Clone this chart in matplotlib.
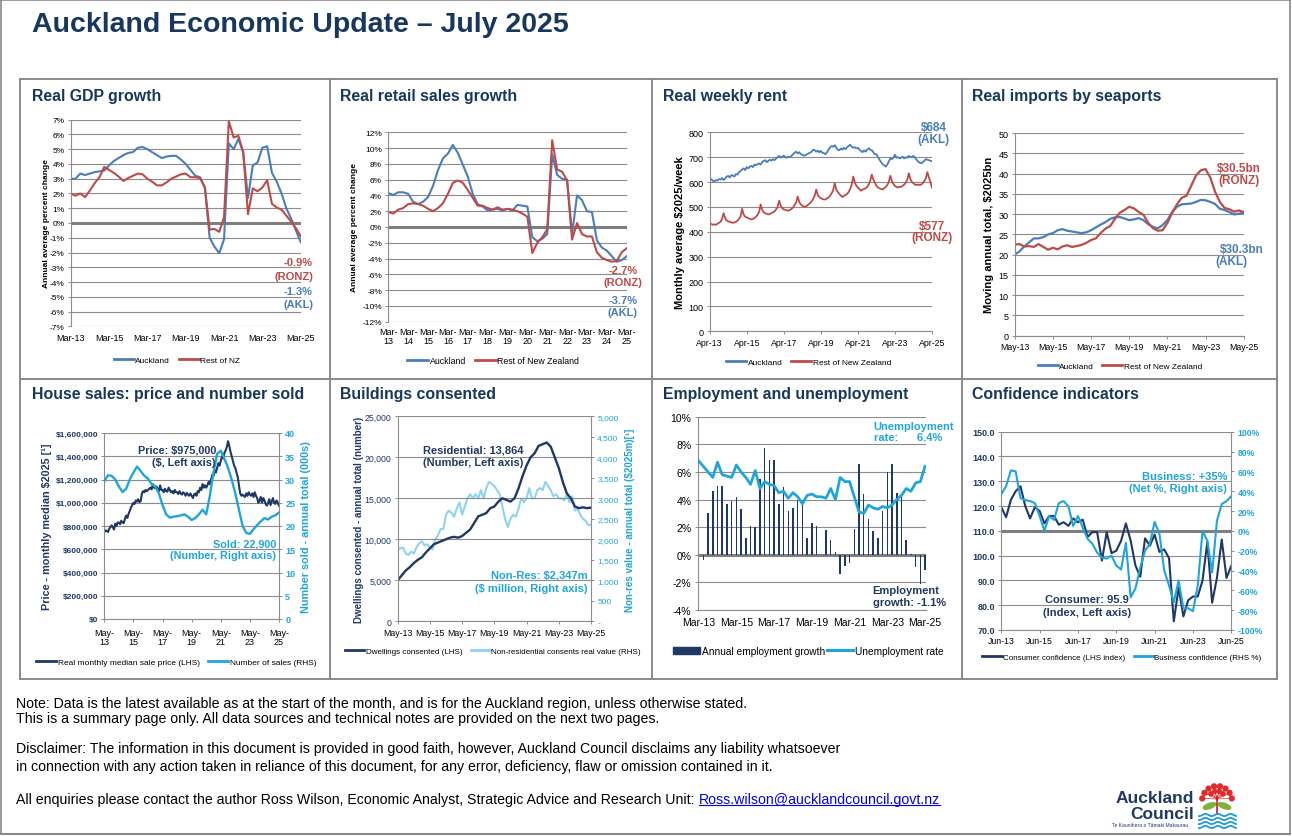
import numpy as np
import matplotlib
matplotlib.use("Agg")
import matplotlib.pyplot as plt
from matplotlib.lines import Line2D
from matplotlib.patches import Patch, Circle, Ellipse

# ============================ DATA ============================
# Real GDP growth (quarterly, Mar-13 .. Mar-25), annual average % change
gdp_akl = [3.0, 3.0, 3.35, 3.25, 3.35, 3.45, 3.5, 3.55, 3.9, 4.2,
           4.4, 4.6, 4.75, 4.8, 5.1, 5.15, 5.0, 4.8, 4.6, 4.4,
           4.5, 4.55, 4.55, 4.3, 4.0, 3.6, 3.2, 3.1, 2.4, -1.0,
           -1.6, -2.05, -1.1, 5.4, 5.0, 5.7, 4.8, 1.7, 3.9, 4.1,
           5.1, 5.2, 3.4, 2.8, 2.0, 1.0, 0.3, -0.5, -1.3]
gdp_ronz = [2.0, 1.85, 2.0, 1.75, 2.2, 2.7, 3.1, 3.8, 3.6, 3.4,
            3.15, 2.85, 3.05, 3.2, 3.35, 3.3, 3.0, 2.8, 2.55, 2.55,
            2.75, 3.0, 3.15, 3.3, 3.35, 3.1, 3.1, 3.05, 2.4, -0.45,
            -0.4, -0.6, 0.4, 6.9, 5.8, 5.9, 4.8, 0.6, 2.35, 2.15,
            2.4, 2.9, 1.3, 1.05, 0.9, 0.5, 0.1, -0.35, -0.9]
gdp_xlabels = ['Mar-13', 'Mar-15', 'Mar-17', 'Mar-19', 'Mar-21', 'Mar-23', 'Mar-25']

# Real retail sales growth (quarterly, Mar-13 .. Mar-25)
retail_akl = [4.3, 4.05, 4.4, 4.4, 4.2, 3.2, 2.9, 3.2, 3.8, 5.2,
              7.2, 8.7, 9.3, 10.4, 9.4, 7.9, 6.4, 4.2, 2.9, 2.6,
              2.1, 2.2, 2.3, 2.1, 2.3, 2.1, 2.8, 2.7, 2.6, -1.3,
              -1.8, -1.5, -0.9, 9.2, 6.6, 6.1, 6.0, -0.9, 4.0, 3.4,
              2.0, 1.9, -1.7, -2.6, -3.0, -3.7, -4.4, -4.2, -3.7]
retail_ronz = [1.9, 1.7, 2.2, 2.4, 2.9, 3.0, 2.9, 2.7, 2.3, 2.0,
               2.4, 3.0, 4.2, 5.6, 5.9, 5.6, 4.7, 3.7, 2.7, 2.7,
               2.4, 2.2, 2.5, 2.2, 2.3, 2.2, 2.0, 1.7, 1.3, -3.3,
               -2.0, -1.3, -0.3, 11.0, 7.3, 7.0, 5.9, -1.6, 0.5, -0.9,
               -1.2, -1.2, -3.2, -3.9, -4.2, -4.4, -4.3, -3.2, -2.7]
retail_xlabels = ['Mar-\n13', 'Mar-\n14', 'Mar-\n15', 'Mar-\n16', 'Mar-\n17', 'Mar-\n18', 'Mar-\n19',
                  'Mar-\n20', 'Mar-\n21', 'Mar-\n22', 'Mar-\n23', 'Mar-\n24', 'Mar-\n25']

# Real weekly rent (monthly, Apr-13 .. Apr-25), $2025/week
rent_akl = [610, 612, 605, 603, 608, 606, 612, 610, 616, 608, 615, 622,
            625, 618, 628, 626, 622, 632, 630, 640, 645, 650, 655, 648,
            660, 655, 662, 665, 660, 670, 668, 672, 675, 670, 680, 685,
            688, 680, 685, 690, 686, 692, 688, 695, 700, 705, 698, 702,
            706, 700, 698, 702, 700, 705, 712, 718, 722, 715, 720, 712,
            710, 706, 708, 712, 715, 718, 722, 730, 728, 722, 726, 720,
            725, 718, 716, 712, 720, 730, 740, 745, 742, 748, 738, 730,
            728, 735, 730, 738, 732, 740, 745, 750, 742, 738, 740, 735,
            738, 730, 725, 720, 728, 722, 730, 736, 730, 728, 720, 712,
            712, 700, 690, 680, 672, 668, 662, 670, 682, 695, 692, 698,
            710, 698, 700, 695, 698, 702, 695, 700, 698, 705, 700, 702,
            705, 698, 690, 682, 678, 675, 680, 685, 692, 690, 688, 685,
            684]
rent_ronz = [435, 432, 428, 430, 428, 432, 436, 440, 452, 475, 455, 445,
             442, 440, 438, 436, 438, 440, 445, 452, 462, 492, 470, 460,
             458, 455, 452, 450, 452, 455, 460, 468, 480, 510, 488, 478,
             475, 472, 470, 472, 475, 478, 482, 490, 500, 525, 505, 495,
             490, 488, 486, 485, 488, 492, 498, 508, 518, 542, 520, 510,
             505, 502, 500, 505, 510, 515, 522, 532, 545, 570, 548, 540,
             535, 532, 530, 530, 534, 538, 545, 555, 568, 595, 570, 560,
             552, 545, 540, 545, 548, 552, 560, 572, 590, 622, 598, 585,
             578, 572, 565, 570, 572, 575, 580, 590, 605, 630, 610, 598,
             585, 578, 575, 572, 570, 575, 580, 588, 600, 625, 605, 592,
             585, 580, 578, 582, 580, 585, 590, 598, 610, 635, 612, 600,
             595, 590, 588, 590, 588, 590, 595, 605, 615, 640, 618, 600,
             577]
rent_xlabels = ['Apr-13', 'Apr-15', 'Apr-17', 'Apr-19', 'Apr-21', 'Apr-23', 'Apr-25']

# Real imports by seaports (quarterly, May-13 .. May-25), moving annual total $2025bn
imports_akl = [20.0, 20.8, 22.0, 23.0, 24.0, 24.0, 24.3, 25.0, 25.3, 26.0,
               26.3, 25.9, 25.7, 25.5, 25.3, 25.5, 26.0, 26.7, 27.4, 28.0,
               28.8, 29.2, 29.3, 28.9, 28.5, 28.7, 29.0, 28.5, 27.5, 26.8,
               26.5, 27.3, 28.5, 30.5, 31.8, 32.4, 32.5, 32.6, 33.0, 33.5,
               33.4, 33.0, 32.5, 31.3, 31.0, 30.5, 29.9, 30.1, 30.3]
imports_ronz = [22.5, 22.6, 22.0, 22.1, 21.9, 22.6, 21.9, 21.2, 21.7, 21.3,
                22.0, 22.3, 21.9, 22.1, 22.4, 22.9, 23.6, 24.0, 25.3, 26.4,
                27.0, 28.8, 30.3, 31.0, 31.8, 31.4, 30.5, 29.8, 27.8, 26.5,
                25.9, 26.0, 27.8, 30.3, 32.4, 34.0, 34.5, 37.0, 39.5, 40.8,
                41.1, 39.0, 35.5, 33.0, 31.5, 31.2, 30.6, 30.9, 30.5]
imports_xlabels = ['May-13', 'May-15', 'May-17', 'May-19', 'May-21', 'May-23', 'May-25']

# House sales: real monthly median price ($000, monthly May-13 .. May-25)
house_price_k = [770, 755, 760, 748, 775, 790, 805, 790, 770, 820, 800, 830,
                 830, 815, 845, 830, 825, 860, 890, 870, 905, 930, 960, 980,
                 1000, 990, 1020, 1010, 1030, 1005, 1015, 1080, 1100, 1090, 1110, 1100,
                 1110, 1120, 1130, 1115, 1160, 1130, 1125, 1140, 1120, 1100, 1150, 1110,
                 1110, 1090, 1120, 1100, 1095, 1130, 1110, 1090, 1100, 1080, 1110, 1090,
                 1090, 1075, 1100, 1080, 1070, 1090, 1080, 1060, 1085, 1070, 1060, 1080,
                 1060, 1040, 1070, 1080, 1060, 1100, 1090, 1130, 1110, 1160, 1130, 1150,
                 1130, 1150, 1180, 1160, 1200, 1240, 1230, 1280, 1260, 1300, 1340, 1320,
                 1360, 1400, 1380, 1430, 1450, 1480, 1530, 1490, 1440, 1400, 1360, 1320,
                 1300, 1260, 1220, 1150, 1080, 1060, 1070, 1060, 1050, 1080, 1060, 1090,
                 1070, 1060, 1080, 1050, 1090, 1060, 1040, 1000, 1020, 1050, 1000, 1040,
                 1020, 990, 975, 1000, 1030, 980, 1010, 1040, 1000, 990, 1020, 1000,
                 975]
# Number of sales, annual total (000s), quarterly May-13 .. May-25
house_sales = [29.6, 30.9, 30.8, 30.0, 28.5, 27.3, 28.0, 30.0, 31.5, 32.8,
               31.8, 30.8, 30.2, 29.0, 28.5, 27.0, 24.5, 22.5, 21.8, 22.0,
               22.1, 22.3, 22.5, 22.0, 21.3, 21.7, 22.5, 23.5, 22.5, 26.5,
               31.5, 35.5, 36.2, 34.5, 32.5, 30.0, 27.0, 23.5, 20.0, 18.5,
               18.3, 19.3, 20.2, 21.0, 21.7, 21.4, 22.0, 22.3, 22.9]
house_xlabels = ['May-\n13', 'May-\n15', 'May-\n17', 'May-\n19', 'May-\n21', 'May-\n23', 'May-\n25']

# Buildings consented: dwellings (quarterly May-13 .. May-25)
bld_dwellings = [5000, 5600, 6200, 6600, 7100, 7500, 7800, 8400, 8900, 9400,
                 9600, 9800, 10000, 10200, 10300, 10200, 10400, 10800, 11200, 12000,
                 12800, 13000, 13200, 13800, 14000, 14600, 15000, 14800, 14600, 15000,
                 16200, 17700, 19000, 20000, 20500, 21400, 21600, 21800, 21300, 20000,
                 18700, 17000, 15600, 15000, 14000, 13800, 13900, 13800, 13864]
# Non-residential consents real value ($m, every two months May-13 .. May-25)
bld_nonres = [1750, 1780, 1800, 1650, 1620, 1700, 1650, 1800, 1900, 1950,
              1850, 1880, 1800, 1750, 2000, 2100, 2250, 2250, 2600, 2700,
              2650, 2550, 2750, 2900, 2600, 2800, 3000, 3100, 3000, 3100,
              3000, 3200, 3000, 3250, 3400, 3350, 3300, 3200, 3100, 2800,
              2500, 2300, 2500, 2600, 2550, 2750, 3000, 2900, 3000, 3250,
              3000, 3000, 3200, 3250, 3200, 3400, 3300, 3200, 3050, 3100,
              3000, 3000, 2950, 3100, 2900, 3050, 2700, 2750, 2600, 2500,
              2450, 2350, 2347]
bld_xlabels = ['May-13', 'May-15', 'May-17', 'May-19', 'May-21', 'May-23', 'May-25']

# Employment (quarterly Mar-13 .. Mar-25)
emp_growth = [-0.5, -0.4, 3.0, 4.6, 5.0, 5.0, 3.7, 3.9, 4.2, 3.3,
              1.2, 2.1, 2.0, 5.5, 7.7, 6.9, 6.9, 3.7, 4.9, 3.2,
              3.4, 4.0, 3.6, 1.2, 2.3, 2.1, 0.0, 1.8, 1.1, 0.2,
              -1.4, -0.8, -0.6, 1.9, 6.6, 4.4, 2.6, 1.7, 1.2, 3.2,
              6.0, 6.6, 4.5, 4.2, 1.1, 0.05, -0.9, -2.1, -1.1]
unemp_rate = [6.8, 6.4, 6.0, 5.6, 6.7, 5.8, 5.7, 5.6, 6.5, 6.0,
              5.6, 5.1, 6.1, 4.8, 5.3, 5.1, 5.0, 4.5, 4.6, 4.1,
              4.5, 4.2, 3.7, 4.3, 4.4, 4.2, 4.2, 4.1, 4.8, 4.0,
              5.6, 5.3, 5.3, 4.2, 3.1, 3.0, 3.6, 3.4, 3.3, 3.5,
              3.4, 3.6, 4.0, 4.3, 4.8, 4.6, 5.2, 5.3, 6.4]
emp_xlabels = ['Mar-13', 'Mar-15', 'Mar-17', 'Mar-19', 'Mar-21', 'Mar-23', 'Mar-25']

# Confidence indicators (quarterly Jun-13 .. Jun-25)
conf_consumer = [119.5, 115.5, 122.5, 126, 128, 120, 115, 119.5, 118, 113,
                 116, 116, 112.5, 113.5, 112, 115, 113.5, 114.5, 107.5, 109.5,
                 109.5, 98, 109.5, 101, 102, 106, 113, 106, 96, 91.5,
                 107, 104, 108.5, 101.5, 102.5, 99, 73.5, 87, 75.5, 82,
                 83.5, 83.5, 90, 105.5, 81, 91, 106.5, 91, 95.9]
conf_business = [37, 45, 61, 60, 33, 31, 30, 28, 15, 0,
                 15, 11, 28, 30, 25, 5, 15, 3, -8, -13,
                 -22, -27, -28, -25, -35, -39, -12, -67, -58, -37,
                 -20, -13, 9, -3, -40, -55, -72, -50, -78, -78,
                 -81, -55, 0, -10, -42, 10, 27, 30, 35]
conf_xlabels = ['Jun-13', 'Jun-15', 'Jun-17', 'Jun-19', 'Jun-21', 'Jun-23', 'Jun-25']

# ============================ STYLE ============================
W, H = 1292, 837
fig = plt.figure(figsize=(W / 100, H / 100), dpi=100)
fig.patch.set_facecolor('white')

NAVY = '#1F3864'
TITLE_C = '#17375E'
BLUE = '#4A7EBB'
RED = '#BE4B48'
LBLUE = '#1FA5DE'
PALE = '#8FD3F3'
GRID = '#8C8C8C'
FRAME = '#8A8A8A'
NARROW = ['Liberation Sans Narrow', 'Liberation Sans', 'DejaVu Sans']
SANS = ['Liberation Sans', 'DejaVu Sans']


def add_ax(l, t, r, b):
    return fig.add_axes([l / W, 1 - b / H, (r - l) / W, (b - t) / H])


def ftext(x, y, s, **kw):
    kw.setdefault('fontfamily', SANS)
    return fig.text(x / W, 1 - y / H, s, **kw)


def fline(x0, y0, x1, y1, **kw):
    fig.add_artist(Line2D([x0 / W, x1 / W], [1 - y0 / H, 1 - y1 / H],
                          transform=fig.transFigure, **kw))


def setup(ax, ylim, yticks, ylabels, xlim, xticks, xlabels, ysize, xsize,
          yweight='normal', ycolor='black', yfamily=NARROW, xfamily=NARROW,
          xcolor='black', xweight='normal'):
    ax.set_ylim(*ylim)
    ax.set_xlim(*xlim)
    ax.set_yticks(yticks)
    ax.set_yticklabels(ylabels)
    ax.set_xticks(xticks)
    ax.set_xticklabels(xlabels)
    ax.grid(axis='y', color=GRID, lw=0.8)
    ax.set_axisbelow(True)
    ax.spines['top'].set_visible(False)
    ax.spines['right'].set_visible(False)
    ax.spines['left'].set_color(GRID)
    ax.spines['bottom'].set_color(GRID)
    ax.tick_params(axis='both', length=2.5, width=0.7, color=GRID, pad=2)
    for t in ax.get_yticklabels():
        t.set_fontsize(ysize); t.set_fontweight(yweight); t.set_color(ycolor); t.set_fontfamily(yfamily)
    for t in ax.get_xticklabels():
        t.set_fontsize(xsize); t.set_fontfamily(xfamily); t.set_color(xcolor); t.set_fontweight(xweight)
        t.set_linespacing(1.0)


def right_ticks(ax2, ylim, ticks, labels, size, color, weight='bold', family=SANS):
    ax2.set_ylim(*ylim)
    ax2.set_yticks(ticks)
    ax2.set_yticklabels(labels)
    for s in ['top', 'left', 'bottom']:
        ax2.spines[s].set_visible(False)
    ax2.spines['right'].set_color(GRID)
    ax2.tick_params(axis='y', length=2.5, width=0.7, color=GRID, pad=2)
    for t in ax2.get_yticklabels():
        t.set_fontsize(size); t.set_fontweight(weight); t.set_color(color); t.set_fontfamily(family)


def legend(cx, cy, handles, labels, fs, family=NARROW, colsp=1.0, hl=2.4):
    return fig.legend(handles, labels, loc='center', bbox_to_anchor=(cx / W, 1 - cy / H),
                      ncol=len(handles), frameon=False, prop={'family': family, 'size': fs},
                      handlelength=hl, columnspacing=colsp, handletextpad=0.2, borderpad=0)


def ylab(x, yc, s, size, color='black'):
    ftext(x, yc, s, rotation=90, ha='center', va='center', fontsize=size,
          fontweight='bold', color=color)


# ============================ FRAME / TITLES ============================
fline(1, 1, 1290, 1, color=FRAME, lw=1.2)
fline(1, 835, 1290, 835, color=FRAME, lw=1.5)
fline(1, 1, 1, 835, color=FRAME, lw=1.2)
fline(1290, 1, 1290, 835, color=FRAME, lw=1.2)
for (x0, y0, x1, y1) in [(20, 80, 1277, 80), (20, 680, 1277, 680), (20, 80, 20, 680),
                         (1277, 80, 1277, 680), (330, 80, 330, 680), (652, 80, 652, 680),
                         (962, 80, 962, 680), (20, 380, 1277, 380)]:
    fline(x0, y0, x1, y1, color=FRAME, lw=1.4)

ftext(32, 25, 'Auckland Economic Update \u2013 July 2025', fontsize=20.5, fontweight='bold',
      color=TITLE_C, va='center', ha='left')

panel_titles = [(32, 96, 'Real GDP growth'), (340, 96, 'Real retail sales growth'),
                (663, 96, 'Real weekly rent'), (972, 96, 'Real imports by seaports'),
                (32, 395, 'House sales: price and number sold'), (340, 395, 'Buildings consented'),
                (663, 395, 'Employment and unemployment'), (972, 395, 'Confidence indicators')]
for x, y, s in panel_titles:
    ftext(x, y, s, fontsize=11.4, fontweight='bold', color=TITLE_C, va='center', ha='left')

# ============================ 1. GDP ============================
ax = add_ax(70.7, 120.7, 300.7, 327.3)
xq = np.arange(len(gdp_akl))
ax.axhline(0, color='#7F7F7F', lw=2.2, zorder=1.5)
ax.plot(xq, gdp_akl, color=BLUE, lw=1.5)
ax.plot(xq, gdp_ronz, color=RED, lw=1.5)
yt = list(range(-7, 8))
setup(ax, (-7, 7), yt, [f'{v}%' for v in yt], (0, 48), list(range(0, 49, 8)), gdp_xlabels, 6, 6.5)
ax.spines['bottom'].set_visible(False)
ax.tick_params(axis='x', length=0, pad=5)
ylab(47, 224, 'Annual average percent change', 6)
ftext(313, 263, '-0.9%', color=RED, fontsize=8, fontweight='bold', ha='right', va='center')
ftext(313, 276.7, '(RONZ)', color=RED, fontsize=8, fontweight='bold', ha='right', va='center')
ftext(313, 291.7, '-1.3%', color=BLUE, fontsize=8, fontweight='bold', ha='right', va='center')
ftext(313, 305, '(AKL)', color=BLUE, fontsize=8, fontweight='bold', ha='right', va='center')
legend(177, 361, [Line2D([], [], color=BLUE, lw=2), Line2D([], [], color=RED, lw=2)],
       ['Auckland', 'Rest of NZ'], 6)

# ============================ 2. Retail ============================
ax = add_ax(388.3, 133.3, 626.7, 322.7)
xq = np.arange(len(retail_akl))
ax.axhline(0, color='#7F7F7F', lw=2.2, zorder=1.5)
ax.plot(xq, retail_akl, color=BLUE, lw=1.5)
ax.plot(xq, retail_ronz, color=RED, lw=1.5)
yt = list(range(-12, 13, 2))
setup(ax, (-12, 12), yt, [f'{v}%' for v in yt], (0, 48), list(range(0, 49, 4)), retail_xlabels, 6, 6.5)
ax.spines['bottom'].set_visible(False)
ax.tick_params(axis='x', length=0, pad=4)
ylab(355, 228, 'Annual average percent change', 6)
ftext(623, 270.7, '-2.7%', color=RED, fontsize=8, fontweight='bold', ha='center', va='center')
ftext(623, 283, '(RONZ)', color=RED, fontsize=8, fontweight='bold', ha='center', va='center')
ftext(623, 300.7, '-3.7%', color=BLUE, fontsize=8, fontweight='bold', ha='center', va='center')
ftext(623, 313, '(AKL)', color=BLUE, fontsize=8, fontweight='bold', ha='center', va='center')
legend(493, 361.7, [Line2D([], [], color=BLUE, lw=2), Line2D([], [], color=RED, lw=2)],
       ['Auckland', 'Rest of New Zealand'], 6.3)

# ============================ 3. Rent ============================
ax = add_ax(709.7, 133.3, 932, 332.3)
xm = np.arange(len(rent_akl))
ax.plot(xm, rent_akl, color=BLUE, lw=1.3)
ax.plot(xm, rent_ronz, color=RED, lw=1.3)
yt = list(range(0, 801, 100))
setup(ax, (0, 800), yt, [str(v) for v in yt], (0, 144), list(range(0, 145, 24)), rent_xlabels, 6.5, 6.3)
ylab(680, 233, 'Monthly average $2025/week', 8)
ftext(933.7, 127.7, '$684', color=BLUE, fontsize=8.5, fontweight='bold', ha='center', va='center')
ftext(933.7, 140, '(AKL)', color=BLUE, fontsize=8.5, fontweight='bold', ha='center', va='center')
ftext(932, 226.7, '$577', color=RED, fontsize=8.5, fontweight='bold', ha='center', va='center')
ftext(932, 238.3, '(RONZ)', color=RED, fontsize=8.5, fontweight='bold', ha='center', va='center')
legend(808.7, 363.3, [Line2D([], [], color=BLUE, lw=2), Line2D([], [], color=RED, lw=2)],
       ['Auckland', 'Rest of New Zealand'], 6)

# ============================ 4. Imports ============================
ax = add_ax(1014.7, 134, 1243.7, 336.7)
xq = np.arange(len(imports_akl))
ax.plot(xq, imports_akl, color=BLUE, lw=1.6)
ax.plot(xq, imports_ronz, color=RED, lw=1.6)
yt = list(range(0, 51, 5))
setup(ax, (0, 50), yt, [str(v) for v in yt], (0, 48), list(range(0, 49, 8)), imports_xlabels, 6.5, 6.3)
ylab(988.7, 235, 'Moving annual total, $2025bn', 8)
ftext(1238.7, 169, '$30.5bn', color=RED, fontsize=8.5, fontweight='bold', ha='center', va='center')
ftext(1238.7, 181, '(RONZ)', color=RED, fontsize=8.5, fontweight='bold', ha='center', va='center')
ftext(1242, 250, '$30.3bn', color=BLUE, fontsize=8.5, fontweight='bold', ha='center', va='center')
ftext(1231, 261.7, '(AKL)', color=BLUE, fontsize=8.5, fontweight='bold', ha='center', va='center')
legend(1120, 366.7, [Line2D([], [], color=BLUE, lw=2), Line2D([], [], color=RED, lw=2)],
       ['Auckland', 'Rest of New Zealand'], 6)

# ============================ 5. House sales ============================
ax = add_ax(104.3, 434, 279, 620)
ax2 = ax.twinx()
xm = np.arange(len(house_price_k))
ax.plot(xm, house_price_k, color=NAVY, lw=1.5)
ax2.plot(np.arange(len(house_sales)) * 3, house_sales, color=LBLUE, lw=1.7)
yt = list(range(0, 1601, 200))
setup(ax, (0, 1600), yt, [f'${v * 1000:,}' for v in yt], (0, 144), list(range(0, 145, 24)),
      house_xlabels, 6, 6.5, yweight='bold', ycolor=NAVY, yfamily=SANS)
ax.tick_params(axis='x', pad=4)
rt = list(range(0, 41, 5))
right_ticks(ax2, (0, 40), rt, [str(v) for v in rt], 6.5, LBLUE)
ylab(46.7, 527, 'Price - monthly median $2025 [\u00b9]', 7.8, NAVY)
ylab(306, 527, 'Number sold - annual total (000s)', 7.8, LBLUE)
ftext(176.7, 451, 'Price: $975,000', color=NAVY, fontsize=7.8, fontweight='bold', ha='center', va='center')
ftext(215, 463.3, '($, Left axis)', color=NAVY, fontsize=7.8, fontweight='bold', ha='right', va='center')
ftext(276, 544.3, 'Sold: 22,900', color=LBLUE, fontsize=7.8, fontweight='bold', ha='right', va='center')
ftext(276, 555.7, '(Number, Right axis)', color=LBLUE, fontsize=7.8, fontweight='bold', ha='right', va='center')
legend(176, 663.3, [Line2D([], [], color=NAVY, lw=2), Line2D([], [], color=LBLUE, lw=2)],
       ['Real monthly median sale price (LHS)', 'Number of sales (RHS)'], 6)

# ============================ 6. Buildings ============================
ax = add_ax(397.7, 417.3, 591, 622.3)
ax2 = ax.twinx()
ax.set_zorder(ax2.get_zorder() + 1)
ax.patch.set_visible(False)
ax2.plot(np.arange(len(bld_nonres)) * 2, bld_nonres, color=PALE, lw=1.5)
ax.plot(np.arange(len(bld_dwellings)) * 3, bld_dwellings, color=NAVY, lw=1.7)
yt = list(range(0, 25001, 5000))
setup(ax, (0, 25000), yt, [f'{v:,}' for v in yt], (0, 144), list(range(0, 145, 24)),
      bld_xlabels, 6.3, 6.3, ycolor=NAVY, yfamily=SANS)
rt = list(range(0, 5001, 500))
right_ticks(ax2, (0, 5000), rt, ['-'] + [f'{v:,}' for v in rt[1:]], 6, LBLUE, weight='normal')
ylab(359.3, 520, 'Dwellings consented - annual total (number)', 7, NAVY)
ylab(630, 520, 'Non-res value - annual total ($2025m)[\u00b9]', 7, LBLUE)
ftext(422.7, 450.7, 'Residential: 13,864', color=NAVY, fontsize=8, fontweight='bold', ha='left', va='center')
ftext(422.7, 463.3, '(Number, Left axis)', color=NAVY, fontsize=8, fontweight='bold', ha='left', va='center')
ftext(587.3, 575.7, 'Non-Res: $2,347m', color=LBLUE, fontsize=8, fontweight='bold', ha='right', va='center')
ftext(587.3, 589.3, '($ million, Right axis)', color=LBLUE, fontsize=8, fontweight='bold', ha='right', va='center')
legend(493, 651.7, [Line2D([], [], color=NAVY, lw=2), Line2D([], [], color=PALE, lw=2)],
       ['Dwellings consented (LHS)', 'Non-residential consents real value (RHS)'], 5.8)

# ============================ 7. Employment ============================
ax = add_ax(697.7, 417.7, 926, 611)
xq = np.arange(len(emp_growth))
ax.bar(xq, emp_growth, width=0.32, color=NAVY, zorder=2)
ax.axhline(0, color='#7F7F7F', lw=2.2, zorder=1.8)
ax.plot(xq, unemp_rate, color=LBLUE, lw=2.0, zorder=3)
yt = list(range(-4, 11, 2))
setup(ax, (-4, 10), yt, [f'{v}%' for v in yt], (-0.2, 48.2), list(range(0, 49, 8)), emp_xlabels,
      7.5, 7.5, yfamily=SANS, xfamily=SANS)
ax.tick_params(axis='x', length=0, pad=5)
ftext(873.7, 426.7, 'Unemployment', color=LBLUE, fontsize=8, fontweight='bold', ha='left', va='center')
ftext(873.7, 438.3, 'rate:      6.4%', color=LBLUE, fontsize=8, fontweight='bold', ha='left', va='center')
ftext(872.7, 590.7, 'Employment', color=NAVY, fontsize=8, fontweight='bold', ha='left', va='center')
ftext(872.7, 602.7, 'growth: -1.1%', color=NAVY, fontsize=8, fontweight='bold', ha='left', va='center')
legend(808.7, 651.7, [Patch(color=NAVY), Line2D([], [], color=LBLUE, lw=2.2)],
       ['Annual employment growth', 'Unemployment rate'], 7.3, family=SANS, colsp=0.2, hl=2.6)

# ============================ 8. Confidence ============================
ax = add_ax(1001.3, 432.7, 1231.3, 631)
ax2 = ax.twinx()
xq = np.arange(len(conf_consumer))
ax.axhline(110, color='#7F7F7F', lw=2.2, zorder=1.5)
ax.plot(xq, conf_consumer, color=NAVY, lw=1.5)
ax2.plot(np.arange(len(conf_business)), conf_business, color=LBLUE, lw=1.5)
yt = list(range(70, 151, 10))
setup(ax, (70, 150), yt, [f'{v:.1f}' for v in yt], (0, 48), list(range(0, 49, 8)), conf_xlabels,
      6.5, 6.3, yweight='bold', ycolor=NAVY, yfamily=SANS)
rt = list(range(-100, 101, 20))
right_ticks(ax2, (-100, 100), rt, [f'{v}%' for v in rt], 6.2, LBLUE)
ftext(1227, 476.7, 'Business: +35%', color=LBLUE, fontsize=8, fontweight='bold', ha='right', va='center')
ftext(1227, 489.3, '(Net %, Right axis)', color=LBLUE, fontsize=8, fontweight='bold', ha='right', va='center')
ftext(1087, 600, 'Consumer: 95.9', color=NAVY, fontsize=8, fontweight='bold', ha='center', va='center')
ftext(1087, 612.7, '(Index, Left axis)', color=NAVY, fontsize=8, fontweight='bold', ha='center', va='center')
legend(1122, 658.3, [Line2D([], [], color=NAVY, lw=2), Line2D([], [], color=LBLUE, lw=2)],
       ['Consumer confidence (LHS index)', 'Business confidence (RHS %)'], 5.8)

# ============================ FOOTER ============================
FS = 10.2
foot = [(704, 'Note: Data is the latest available as at the start of the month, and is for the Auckland region, unless otherwise stated.'),
        (719, 'This is a summary page only. All data sources and technical notes are provided on the next two pages.'),
        (749, 'Disclaimer: The information in this document is provided in good faith, however, Auckland Council disclaims any liability whatsoever'),
        (767, 'in connection with any action taken in reliance of this document, for any error, deficiency, flaw or omission contained in it.')]
for y, s in foot:
    ftext(16, y, s, fontsize=FS, color='black', ha='left', va='center')
t_last = ftext(16, 800, 'All enquiries please contact the author Ross Wilson, Economic Analyst, Strategic Advice and Research Unit:',
               fontsize=FS, color='black', ha='left', va='center')
fig.canvas.draw()
bb = t_last.get_window_extent()
x_email = bb.x1 + 4
t_mail = fig.text(x_email / W, 1 - 800 / H, 'Ross.wilson@aucklandcouncil.govt.nz', fontsize=FS,
                  color='#0000EE', ha='left', va='center', fontfamily=SANS)
fig.canvas.draw()
bb2 = t_mail.get_window_extent()
fig.add_artist(Line2D([bb2.x0 / W, bb2.x1 / W], [(bb2.y0 + 1) / H, (bb2.y0 + 1) / H],
                      transform=fig.transFigure, color='#0000EE', lw=0.8))

# ============================ LOGO ============================
ftext(1194, 799, 'Auckland', fontsize=12.5, fontweight='bold', color=NAVY, ha='right', va='center')
ftext(1194, 815, 'Council', fontsize=12.5, fontweight='bold', color=NAVY, ha='right', va='center')
ftext(1112, 826, 'Te Kaunihera o T\u0101maki Makaurau', fontsize=3.6, color=NAVY, ha='left', va='center')
lg = add_ax(1196, 780, 1238, 832)
lg.set_xlim(0, 42); lg.set_ylim(52, 0); lg.axis('off')
for ang in np.linspace(190, 350, 8):
    a = np.deg2rad(ang)
    cx, cy = 21 + 15 * np.cos(a), 22 + 15 * np.sin(a)
    lg.plot([21, cx], [20, cy], color='#E32A2A', lw=0.5)
    lg.add_patch(Circle((cx, cy), 2.4, color='#E32A2A'))
for ang in np.linspace(220, 320, 4):
    a = np.deg2rad(ang)
    cx, cy = 21 + 8 * np.cos(a), 20 + 8 * np.sin(a)
    lg.plot([21, cx], [20, cy], color='#E32A2A', lw=0.5)
    lg.add_patch(Circle((cx, cy), 2.0, color='#E32A2A'))
lg.plot([21, 21], [18, 34], color='#C0202A', lw=1.2)
lg.add_patch(Ellipse((13.5, 27), 13, 5, angle=-20, color='#7DB23A'))
lg.add_patch(Ellipse((28.5, 27), 13, 5, angle=20, color='#7DB23A'))
wx = np.linspace(3, 40, 60)
for yy in [36, 40, 44, 48]:
    lg.plot(wx, yy + 1.1 * np.sin(wx / 2.0), color='#1E9BD7', lw=1.3)

fig.savefig('out.png', dpi=100, facecolor='white')
